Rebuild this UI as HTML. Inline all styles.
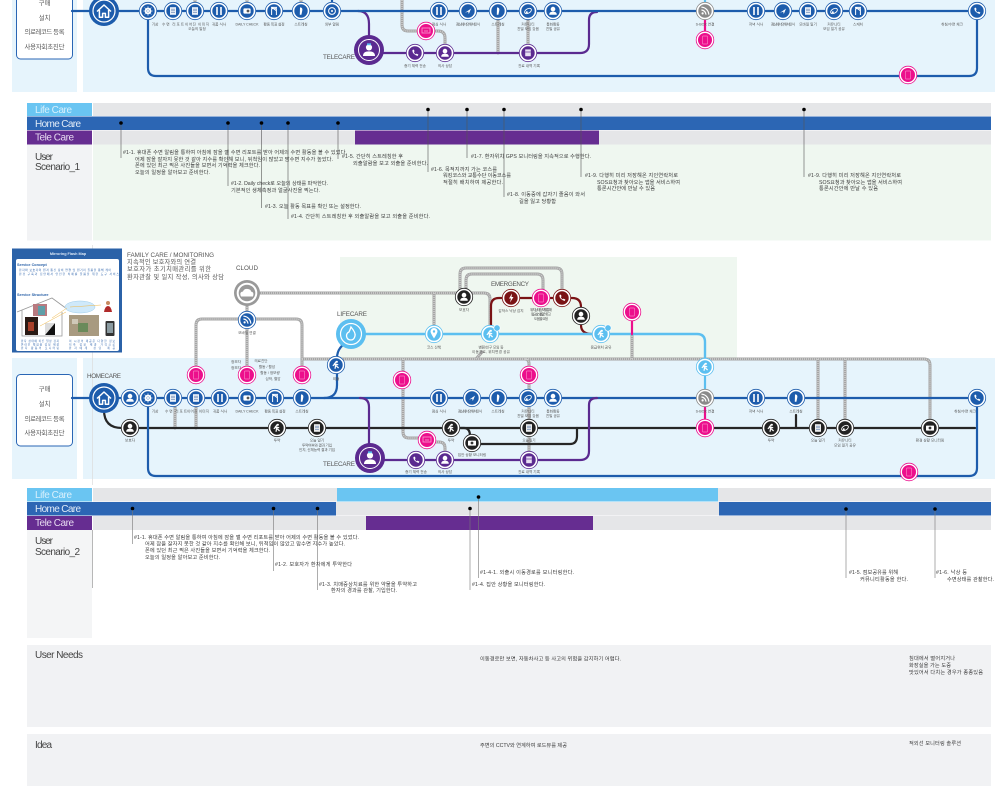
<!DOCTYPE html>
<html lang="ko"><head><meta charset="utf-8"><title>Service Map</title>
<style>
html,body{margin:0;padding:0;background:#fff;width:1005px;height:786px;overflow:hidden}
svg{display:block;filter:blur(.3px)}
text{font-family:"Liberation Sans","Noto Sans CJK KR",sans-serif;fill:#444}
.t{font-size:5.2px;fill:#3a3a3a}
.l{font-size:3.6px;fill:#555;text-anchor:middle}
.h{font-size:10px}
.b{font-size:6.4px;fill:#555;text-anchor:middle}
.m{font-size:6.3px;fill:#555}
.f{fill:none;stroke-linecap:round;stroke-linejoin:round}
</style></head><body>
<svg width="1005" height="786" viewBox="0 0 1005 786" xmlns="http://www.w3.org/2000/svg">
<defs>
<g id="nb"><circle r="8.7" fill="#fff" stroke="#1d5cac" stroke-width=".8"/><circle r="6.7" fill="#1d5cac"/></g>
<g id="np"><circle r="8.7" fill="#fff" stroke="#5b2a90" stroke-width=".8"/><circle r="6.7" fill="#5b2a90"/></g>
<g id="nk"><circle r="8.7" fill="#fff" stroke="#222" stroke-width=".8"/><circle r="6.7" fill="#222"/></g>
<g id="nr"><circle r="8.7" fill="#fff" stroke="#7a1315" stroke-width=".8"/><circle r="6.7" fill="#7a1315"/></g>
<g id="ng"><circle r="8.7" fill="#fff" stroke="#8a8a8a" stroke-width=".8"/><circle r="6.7" fill="#8a8a8a"/></g>
<g id="nl"><circle r="8.7" fill="#fff" stroke="#5cbff0" stroke-width=".8"/><circle r="6.7" fill="#5cbff0"/></g>
<g id="nq"><circle r="8.8" fill="#fff" stroke="#ec0f8c" stroke-width=".8"/><circle r="7" fill="#ec0f8c"/><rect x="-2.6" y="-4" width="5.2" height="8" rx=".8" fill="none" stroke="#f77cc0" stroke-width=".7"/></g>
<g id="nt"><circle r="8.8" fill="#fff" stroke="#ec0f8c" stroke-width=".8"/><circle r="7" fill="#ec0f8c"/><rect x="-4" y="-3" width="8" height="5" fill="none" stroke="#f9a0d2" stroke-width=".8"/><path d="M-2 0H2" stroke="#f9a0d2" stroke-width=".8"/></g>
<g id="gP"><circle cy="-1.9" r="2.3" fill="#fff"/><path d="M-3.8 3.8Q-3.8 .6 0 .6Q3.8 .6 3.8 3.8Z" fill="#fff"/></g>
<g id="gD"><rect x="-3" y="-3.8" width="6" height="7.6" fill="#fff" opacity=".92"/><path d="M-2-1.8H2M-2-.2H2M-2 1.4H2" stroke="#5f7fb0" stroke-width=".6"/></g>
<g id="gF"><path d="M-2-4V4M2-4V4" stroke="#fff" stroke-width="1.6"/></g>
<g id="gT"><circle r="3.4" fill="none" stroke="#fff" stroke-width="1"/><circle r="1" fill="#fff"/></g>
<g id="gC"><rect x="-4" y="-2.4" width="8" height="5" rx=".6" fill="#fff"/><circle r="1.4" fill="#333"/></g>
<g id="gR"><path d="M-1-3.6Q2-3.6 1.2 0L.4 3.8H-1.2Z" fill="#fff"/></g>
<g id="gA"><path d="M-3 1.8L3-2.4L.8 3L.2.6Z" fill="#fff"/></g>
<g id="gH"><path d="M-2.6-3Q-3 1 2.6 3L3.4 1.6L1.6.6L.8 1.4Q-.6.6-1.2-1L-.4-1.8L-1.2-3.4Z" fill="#fff"/></g>
<g id="gS"><path d="M-2.2-.4L.4-3.6M0-1.4L-1 3.8M-.2.4L2.6 3M-.6-1L2.2-.2M-.6-1L-3.2.8" stroke="#fff" stroke-width="1.2" fill="none"/><circle cx=".8" cy="-3.2" r="1.1" fill="#fff"/></g>
<g id="gW"><circle cx="-2.4" cy="2.4" r="1.1" fill="#fff"/><path d="M-3.6-1A4.8 4.8 0 0 1 1 3.6M-3.6-3.8A7.6 7.6 0 0 1 3.8 3.6" stroke="#fff" stroke-width="1.2" fill="none"/></g>
<g id="gK"><path d="M-2.4 4V-2.4H2.4V4M-3-3.6H3M-2.2-3.6L2.2-.4" stroke="#fff" stroke-width="1" fill="none"/></g>
<g id="gL"><ellipse rx="3.7" ry="2.2" fill="none" stroke="#fff" stroke-width=".9" transform="rotate(-30)"/><circle cx="-1.2" cy="1.2" r="1" fill="#fff"/></g>
<g id="gX"><rect x="-3.6" y="-2.6" width="7.2" height="5.2" rx="1" fill="#fff"/><circle cx="1" r="1.4" fill="#555"/></g>
<g id="gB"><path d="M-2.8-3.6H2.8V3.2H-2.8Z" fill="#e8e0f2"/><path d="M-2.8-1H2.8" stroke="#5b2a90" stroke-width=".7"/></g>
<g id="cB"><circle r="3.4" fill="#fff"/><circle r="1.6" fill="#1d5cac"/><path d="M0-4.8V4.8M-4.8 0H4.8M-3.4-3.4L3.4 3.4M3.4-3.4L-3.4 3.4" stroke="#fff" stroke-width=".6"/></g>
<g id="big"><circle r="15" fill="#1d5cac"/><circle r="11" fill="none" stroke="#fff" stroke-width="1.2"/><path d="M-7 0.5L0-6L7 .5M-4.6 -1V6.2H-1.4V2.4H1.4V6.2H4.6V-1" fill="none" stroke="#fff" stroke-width="1.5" stroke-linejoin="round"/></g>
<g id="tel"><circle r="15" fill="#5b2a90"/><circle r="10.5" fill="none" stroke="#fff" stroke-width="1"/><circle cy="-2.6" r="3.1" fill="#fff"/><path d="M-6 6Q-6 1.4 0 1.4Q6 1.4 6 6Z" fill="#fff"/><rect x="-2" y="-6.6" width="4" height="1.8" fill="#5cbff0"/></g>
<g id="rails1">
<path d="M402 0V25Q402 31 408 31H424M430 31H438Q445 31 445 38V53M498 11V53M528 11V53M195 0V6M247 0V6M301 0V6"/>
</g>
<g id="rails2">
<path d="M247 293H484Q490 293 490 299V335M434 293V335M247 293V375M196 375V325Q196 319 202 319H296Q302 319 302 325V375"/>
<path d="M460 297V274Q460 268 466 268H556Q562 268 562 274V297M466 297V280Q466 274 472 274H537Q543 274 543 280V297"/>
<path d="M302 359H924Q930 359 930 365V428M403 359V432Q403 438 409 438H428M818 359V428M845 359V428M525 359Q529 359 529 364V460M632 334V359M476 359L482 352"/>
<path d="M430 442H439Q445 442 445 448V460M175 398V428M196 398V428"/>
</g>
</defs>

<!-- top map -->
<rect x="12" y="0" width="65" height="92" fill="#e6f4fc"/>
<rect x="83" y="0" width="912" height="92" fill="#e6f4fc"/>
<rect x="16.5" y="-12" width="56" height="71" rx="4" fill="#fff" stroke="#2a66b5" stroke-width="1"/>
<text class="b" x="44.5" y="5">구매</text><text class="b" x="44.5" y="20">설치</text><text class="b" x="44.5" y="34" textLength="40">의료레코드 등록</text><text class="b" x="44.5" y="49" textLength="40">사용자회초진단</text>

<use href="#rails1" class="f" stroke="#a5a5a5" stroke-width="3"/>
<use href="#rails1" class="f" stroke="#d0d0d0" stroke-width="1.5" stroke-dasharray="1 1" style="stroke-linecap:butt"/>
<g class="f" stroke-width="2.2">
<path d="M705 0V11" stroke="#5cbff0"/><path d="M705 19V32" stroke="#ec0f8c"/><path d="M332 0V8" stroke="#1d5cac"/>
<path d="M358 11Q369 11 369 24V50" stroke="#5b2a90"/>
<path d="M369 53H580Q589 53 589 44V20Q589 12 597 12" stroke="#5b2a90"/>
<path d="M72 11H977" stroke="#1d5cac"/>
<path d="M148 11V68Q148 76 156 76H969Q977 76 977 68V11" stroke="#1d5cac"/>
</g>
<use href="#big" x="104" y="11"/>
<g>
<use href="#nb" x="148" y="11"/><use href="#cB" x="148" y="11"/>
<use href="#nb" x="173" y="11"/><use href="#gD" x="173" y="11"/>
<use href="#nb" x="195" y="11"/><use href="#gD" x="195" y="11"/>
<use href="#nb" x="219" y="11"/><use href="#gF" x="219" y="11"/>
<use href="#nb" x="247" y="11"/><use href="#gX" x="247" y="11"/>
<use href="#nb" x="274" y="11"/><use href="#gK" x="274" y="11"/>
<use href="#nb" x="301" y="11"/><use href="#gR" x="301" y="11"/>
<use href="#nb" x="332" y="11"/><use href="#gT" x="332" y="11"/>
<use href="#nb" x="439" y="11"/><use href="#gF" x="439" y="11"/>
<use href="#nb" x="468" y="11"/><use href="#gA" x="468" y="11"/>
<use href="#nb" x="498" y="11"/><use href="#gR" x="498" y="11"/>
<use href="#nb" x="528" y="11"/><use href="#gL" x="528" y="11"/>
<use href="#nb" x="553" y="11"/><use href="#gP" x="553" y="11"/>
<use href="#ng" x="705" y="11"/><use href="#gW" x="705" y="11"/>
<use href="#nb" x="756" y="11"/><use href="#gF" x="756" y="11"/>
<use href="#nb" x="783" y="11"/><use href="#gA" x="783" y="11"/>
<use href="#nb" x="808" y="11"/><use href="#gD" x="808" y="11"/>
<use href="#nb" x="834" y="11"/><use href="#gL" x="834" y="11"/>
<use href="#nb" x="858" y="11"/><use href="#gK" x="858" y="11"/>
<use href="#nb" x="977" y="11"/><use href="#gH" x="977" y="11"/>
<use href="#nq" x="705" y="40"/><use href="#nq" x="908" y="75"/><use href="#nt" x="426" y="31"/>
<use href="#tel" x="369" y="50"/>
<use href="#np" x="415" y="53"/><use href="#gH" x="415" y="53"/>
<use href="#np" x="445" y="53"/><use href="#gP" x="445" y="53"/>
<use href="#np" x="528" y="53"/><use href="#gB" x="528" y="53"/>
</g>
<text class="m" x="323" y="59" textLength="32">TELECARE</text>
<g>
<text class="l" x="155" y="25.500">기상</text><text class="l" x="173" y="25.500" textLength="22">수면 리포트</text><text class="l" x="197" y="25.500" textLength="24">이어진 이미지</text><text class="l" x="197" y="30">오늘의 일정</text><text class="l" x="219" y="25.500">귀품 식사</text><text class="l" x="247" y="25.500" textLength="23">DAILY CHECK</text><text class="l" x="274" y="25.500" textLength="21">활동 목표 설정</text><text class="l" x="301" y="25.500">스트레칭</text><text class="l" x="332" y="25.500">외부 알림</text>
<text class="l" x="439" y="25.500">점심 식사</text><text class="l" x="468" y="25.500" textLength="24">점심에서의 위치인식</text><text class="l" x="498" y="25.500">스트레칭</text><text class="l" x="528" y="25.500">커뮤니티</text><text class="l" x="528" y="30">친밀 모임 갖음</text><text class="l" x="553" y="25.500">통화활동</text><text class="l" x="553" y="30">친밀 공유</text>
<text class="l" x="705" y="25.500">S-BOX 연결</text><text class="l" x="756" y="25.500">저녁 식사</text><text class="l" x="783" y="25.500" textLength="24">점심에서의 위치인식</text><text class="l" x="808" y="25.500">모바일 일기</text><text class="l" x="834" y="25.500">커뮤니티</text><text class="l" x="834" y="30">모임 일기 공유</text><text class="l" x="858" y="25.500">스케치</text><text class="l" x="952" y="25.500">취침/수면 체크</text>
<text class="l" x="415" y="67">증기 체력 전송</text><text class="l" x="445" y="67">의사 상담</text><text class="l" x="529" y="67">진료 내역 기록</text>
</g>

<!-- scenario 1 -->
<rect x="27" y="103" width="65" height="13" fill="#6ac5f2"/><rect x="93" y="103" width="898" height="13" fill="#e5e6e8"/>
<rect x="27" y="116.5" width="964" height="13.5" fill="#2c66b4"/>
<rect x="27" y="130.5" width="65" height="14" fill="#662d91"/><rect x="93" y="130.5" width="898" height="14" fill="#e5e6e8"/><rect x="355" y="130.5" width="244" height="14" fill="#662d91"/>
<rect x="27" y="144.5" width="65" height="96" fill="#f2f3f5"/><rect x="93" y="144.5" width="898" height="96" fill="#eff7f0"/>
<text x="35" y="113" class="h" textLength="37" style="fill:#d8f0fc">Life Care</text>
<text x="35" y="127" class="h" textLength="46" style="fill:#e2ecf7">Home Care</text>
<text x="35" y="140.500" class="h" textLength="39" style="fill:#e6daf0">Tele Care</text>
<text x="35" y="160" class="h" textLength="18">User</text><text x="35" y="170" class="h" textLength="45">Scenario_1</text>
<g stroke="#555" stroke-width=".6">
<path d="M121 123V158M228 123V186M261.500 123V208M288 123V219M338 123V159M428 109.500V172M467 109.500V158M504 109.500V197M581 109.500V177M804 109.500V177"/>
</g>
<g fill="#000">
<circle cx="121" cy="123" r="1.800"/><circle cx="228" cy="123" r="1.800"/><circle cx="261.500" cy="123" r="1.800"/><circle cx="288" cy="123" r="1.800"/><circle cx="338" cy="123" r="1.800"/>
<circle cx="428" cy="109.500" r="1.800"/><circle cx="467" cy="109.500" r="1.800"/><circle cx="504" cy="109.500" r="1.800"/><circle cx="581" cy="109.500" r="1.800"/><circle cx="804" cy="109.500" r="1.800"/>
</g>
<g>
<text class="t" x="123" y="154" textLength="224">#1-1. 휴대폰 수면 알림을 통하여 아침에 잠을 깰 수면 리포트를 받아 어제의 수면 활동을 볼 수 있었다.</text>
<text class="t" x="135" y="161" textLength="198">어제 잠을 잘자지 못한 것 같아 지수를 확인해 보니, 뒤척임이 많았고 맘수면 지수가 높았다.</text>
<text class="t" x="135" y="167" textLength="125">폰에 있던 최근 찍은 사진들을 보면서 기억력을 체크한다.</text>
<text class="t" x="135" y="174" textLength="75">오늘의 일정을 알아보고 준비한다.</text>
<text class="t" x="231" y="185" textLength="97">#1-2. Daily check로 오늘의 상태를 파악한다.</text>
<text class="t" x="231" y="192" textLength="89">기본적인 생체측정과 얼굴사진을 찍는다.</text>
<text class="t" x="265" y="208" textLength="96">#1-3. 오늘 활동 목표를 확인 또는 설정한다.</text>
<text class="t" x="291" y="218" textLength="139">#1-4. 간단히 스트레칭한 후 외출알람을 보고 외출을 준비한다.</text>
<text class="t" x="342" y="158" textLength="61">#1-5. 간단히 스트레칭한 후</text>
<text class="t" x="353" y="165" textLength="75">외출알람을 보고 외출을 준비한다.</text>
<text class="t" x="431" y="171" textLength="66">#1-6. 목적지까지 가는 코스를</text>
<text class="t" x="443" y="177" textLength="68">워킹코스와 교통수단 이동코스를</text>
<text class="t" x="443" y="184" textLength="60">적절히 배치하여 제공한다.</text>
<text class="t" x="471" y="158" textLength="120">#1-7. 환자위치 GPS 모니터링을 지속적으로 수행한다.</text>
<text class="t" x="507" y="196" textLength="78">#1-8. 이동중에 갑자기 졸음이 와서</text>
<text class="t" x="519" y="203" textLength="37">길을 잃고 당황함</text>
<text class="t" x="585" y="177" textLength="93">#1-9. 다행히 미리 저장해온 지인연락처로</text>
<text class="t" x="597" y="184" textLength="83">SOS요청과 찾아오는 앱을 서비스하여</text>
<text class="t" x="597" y="190" textLength="58">통론시간안에 만날 수 있음</text>
<text class="t" x="808" y="177" textLength="93">#1-9. 다행히 미리 저장해온 지인연락처로</text>
<text class="t" x="819" y="184" textLength="83">SOS요청과 찾아오는 앱을 서비스하여</text>
<text class="t" x="819" y="190" textLength="59">통론시간안에 만날 수 있음</text>
</g>

<!-- middle backgrounds -->
<rect x="340" y="257" width="397" height="101" fill="#eff7f0"/>
<rect x="12" y="358" width="65" height="121" fill="#e6f4fc"/>
<rect x="83" y="358" width="912" height="121" fill="#e6f4fc"/>
<path d="M92.500 245V485" stroke="#dcdcdc" stroke-width=".7"/>
<rect x="16.500" y="374.500" width="56" height="71.500" rx="4" fill="#fff" stroke="#2a66b5" stroke-width="1"/>
<text class="b" x="44.500" y="391">구매</text><text class="b" x="44.500" y="406">설치</text><text class="b" x="44.500" y="421" textLength="40">의료레코드 등록</text><text class="b" x="44.500" y="435" textLength="40">사용자회초진단</text>

<!-- flash map card -->
<rect x="12" y="248.500" width="110" height="104" fill="#2b62a8"/>
<rect x="16" y="259" width="103" height="92" rx="2" fill="#fff"/>
<text x="68" y="255" font-size="3.800" font-weight="700" text-anchor="middle" style="fill:#dce8f6">Mirroring Flash Map</text>
<text x="17" y="266" font-size="3.800" font-weight="700" style="fill:#2b62a8">Service Concept</text>
<text x="19" y="271" font-size="2.800" textLength="92" style="fill:#3a6cb0">환자와 보호자의 원격 통신 장비 연결 및 원거리 돌봄을 통해 케어</text>
<text x="19" y="275" font-size="2.800" textLength="100" style="fill:#3a6cb0">환경 구축과 집안에서 안전한 치매를 돌봄을 위한 도구 서비스</text>
<text x="17" y="296" font-size="3.800" font-weight="700" style="fill:#2b62a8">Service Structure</text>
<path d="M17 312L52 298L67 309M22 310V336H62V312" fill="none" stroke="#999" stroke-width=".8"/>
<rect x="33" y="304" width="14" height="12" fill="#b87a80"/><rect x="38" y="306" width="7" height="9" fill="#5f9ea8"/>
<rect x="25" y="317" width="13" height="18" fill="#2a1a14"/><rect x="28" y="322" width="6" height="9" fill="#a8402a"/>
<path d="M45 335L55 323V335Z" fill="#111"/><path d="M45 335V323H55Z" fill="#ddd"/>
<ellipse cx="80" cy="307" rx="15" ry="6" fill="#cfe9fa" stroke="#9fcdea" stroke-width=".5"/>
<rect x="69" y="315" width="30" height="21" fill="#a89a80"/><rect x="78" y="323" width="10" height="9" fill="#6a8a5a"/><rect x="72" y="319" width="6" height="5" fill="#cfc8b8"/>
<rect x="105.500" y="321" width="9" height="15" rx="1" fill="#333"/><rect x="107" y="323" width="6" height="10" fill="#8a9aa0"/>
<circle cx="108" cy="303" r="2" fill="#c88a60"/><path d="M104 312Q105 306 108 306Q111 306 112 312Z" fill="#b02a2a"/>
<path d="M52 318L67 308M40 326L66 312M70 307L101 305" stroke="#f1b94a" stroke-width=".5"/>
<text x="21" y="342" font-size="2.700" textLength="38" style="fill:#3a6cb0">환자 상태에 따른 일상 감지</text>
<text x="21" y="345.500" font-size="2.700" textLength="38" style="fill:#3a6cb0">온라인 체험용 정보 제공</text>
<text x="21" y="349" font-size="2.700" textLength="38" style="fill:#3a6cb0">환자 활동의 모니터링</text>
<text x="69" y="342" font-size="2.700" textLength="46" style="fill:#3a6cb0">이 시장의 제공은 다양한 정보</text>
<text x="69" y="345.500" font-size="2.700" textLength="46" style="fill:#3a6cb0">지속 정보 제공 가격으로</text>
<text x="69" y="349" font-size="2.700" textLength="46" style="fill:#3a6cb0">환자에게 상담 제공</text>

<text class="m" x="127" y="257" textLength="87">FAMILY CARE  / MONITORING</text>
<text class="m" x="127" y="264" textLength="69">지속적인 보호자와의 연결</text>
<text class="m" x="127" y="271" textLength="84">보호자가 초기치매관리를 위한</text>
<text class="m" x="127" y="279" textLength="97">환자관찰 및 일지 작성, 의사와 상담</text>
<text class="m" x="236" y="270" textLength="22">CLOUD</text>
<text class="m" x="87" y="378" textLength="34">HOMECARE</text>
<text class="m" x="337" y="316" textLength="30">LIFECARE</text>
<text class="m" x="491" y="286" textLength="38">EMERGENCY</text>
<text class="m" x="323" y="466" textLength="32">TELECARE</text>

<use href="#rails2" class="f" stroke="#a5a5a5" stroke-width="3"/>
<use href="#rails2" class="f" stroke="#d0d0d0" stroke-width="1.500" stroke-dasharray="1 1" style="stroke-linecap:butt"/>

<g class="f" stroke-width="2.200">
<path d="M491 335V306Q491 298 499 298H572Q581 298 581 307V325Q581 334 592 334" stroke="#7a1315"/>
<path d="M351 334H697Q705 334 705 342V367" stroke="#5cbff0" stroke-width="2.400"/>
<path d="M705 375V390" stroke="#5cbff0"/>
<path d="M632 320V334" stroke="#ec0f8c"/>
<path d="M705 406V420" stroke="#ec0f8c"/>
<path d="M104 410Q104 428 122 428H975" stroke="#262626"/>
<path d="M796 415V428" stroke="#262626"/>
<path d="M458 428H464Q470 428 470 436V444H570Q577 444 577 436V428" stroke="#262626"/>
<path d="M72 398H977" stroke="#1d5cac"/>
<path d="M148 398V468Q148 476 156 476H969Q977 476 977 468V398" stroke="#1d5cac"/>
<path d="M351 340Q337 346 337 358V385Q337 398 324 398" stroke="#1d5cac"/>
<path d="M360 398Q369 398 369 407V458" stroke="#5b2a90"/>
<path d="M370 460H580Q589 460 589 451V405Q589 398 597 398" stroke="#5b2a90"/>
</g>

<circle cx="247" cy="293" r="13" fill="#999"/><circle cx="247" cy="293" r="10.300" fill="#fff"/><circle cx="247" cy="293" r="8.300" fill="#999"/>
<path d="M241 296.500Q239 292 243 291.500Q244 288.500 248 289Q251 289.500 251 291.500Q254.500 292 253 296.500Z" fill="#fff"/>
<use href="#nb" x="247" y="320"/><use href="#gW" x="247" y="320"/>
<text class="l" x="247" y="334">모바일 연결</text>
<text class="l" x="236" y="363">정보자</text><text class="l" x="236" y="369">정보자</text>
<text class="l" x="261" y="362">의료진단</text><text class="l" x="267" y="368">활동 / 활성</text><text class="l" x="270" y="374">활동 / 정보량</text><text class="l" x="273" y="380">심박, 혈압</text>

<circle cx="351" cy="334" r="15" fill="#5cbff0"/><circle cx="351" cy="334" r="10.500" fill="none" stroke="#fff" stroke-width="1.200"/>
<path d="M351 327Q356 333 355 336Q354 340 351 340Q347 340 346.500 336Q346.500 333 349 332Q350 330 351 327Z" fill="none" stroke="#fff" stroke-width="1.300"/>

<use href="#nl" x="434" y="334"/><path d="M434 338.500Q430.500 333 430.500 331.500A3.500 3.500 0 0 1 437.500 331.500Q437.500 333 434 338.500Z" fill="#fff"/><circle cx="434" cy="331.500" r="1.200" fill="#5cbff0"/>
<use href="#nl" x="490" y="334"/><use href="#gS" x="490" y="334"/><circle cx="497" cy="328" r="3.200" fill="#5cbff0" stroke="#fff" stroke-width=".7"/>
<use href="#nl" x="601" y="334"/><use href="#gS" x="601" y="334"/><circle cx="608" cy="328" r="3.200" fill="#5cbff0" stroke="#fff" stroke-width=".7"/>
<use href="#nq" x="632" y="312"/>
<use href="#nk" x="464" y="297"/><use href="#gP" x="464" y="297"/>
<use href="#nr" x="511" y="298"/><path d="M512 293.500L509 298.500H511L510 302.500L513.500 297H511.500Z" fill="#fff"/>
<use href="#nq" x="541" y="298"/>
<use href="#nr" x="562" y="298"/><use href="#gH" x="562" y="298"/>
<use href="#nk" x="581" y="316"/><use href="#gP" x="581" y="316"/>
<text class="l" x="464" y="311">보호자</text>
<text class="l" x="511" y="312">갑작스 낙상 감지</text>
<text class="l" x="541" y="311" textLength="22">위치, 상태, 정보를 통해</text><text class="l" x="541" y="315.500" textLength="20">필요상태를 알려주고</text><text class="l" x="541" y="320" textLength="14">도움을 요청</text>
<text class="l" x="434" y="348.500">코스 산책</text>
<text class="l" x="491" y="348.500" textLength="25">병원/친구 모임 등</text><text class="l" x="491" y="353" textLength="38">이동경로, 위치변경 공유</text>
<text class="l" x="601" y="348.500">응급위치 공유</text>

<use href="#nb" x="336" y="365"/><use href="#gS" x="336" y="365"/><text class="l" x="336" y="380">외출</text>
<use href="#nq" x="196" y="375"/><use href="#nq" x="247" y="375"/><use href="#nq" x="302" y="375"/><use href="#nq" x="402" y="380"/><use href="#nq" x="529" y="375"/>

<use href="#big" x="104" y="398"/>
<use href="#nb" x="130" y="398"/><use href="#gP" x="130" y="398"/>
<use href="#nb" x="148" y="398"/><use href="#cB" x="148" y="398"/>
<use href="#nb" x="173" y="398"/><use href="#gD" x="173" y="398"/>
<use href="#nb" x="196" y="398"/><use href="#gD" x="196" y="398"/>
<use href="#nb" x="220" y="398"/><use href="#gF" x="220" y="398"/>
<use href="#nb" x="247" y="398"/><use href="#gX" x="247" y="398"/>
<use href="#nb" x="275" y="398"/><use href="#gK" x="275" y="398"/>
<use href="#nb" x="302" y="398"/><use href="#gR" x="302" y="398"/>
<use href="#nb" x="439" y="398"/><use href="#gF" x="439" y="398"/>
<use href="#nb" x="472" y="398"/><use href="#gA" x="472" y="398"/>
<use href="#nb" x="498" y="398"/><use href="#gR" x="498" y="398"/>
<use href="#nb" x="528" y="398"/><use href="#gL" x="528" y="398"/>
<use href="#nb" x="553" y="398"/><use href="#gP" x="553" y="398"/>
<use href="#ng" x="705" y="398"/><use href="#gW" x="705" y="398"/>
<use href="#nl" x="705" y="367"/><use href="#gS" x="705" y="367"/>
<use href="#nb" x="756" y="398"/><use href="#gF" x="756" y="398"/>
<use href="#nb" x="796" y="398"/><use href="#gR" x="796" y="398"/>
<use href="#nb" x="977" y="398"/><use href="#gH" x="977" y="398"/>

<use href="#nk" x="130" y="428"/><use href="#gP" x="130" y="428"/>
<use href="#nk" x="277" y="428"/><use href="#gS" x="277" y="428"/>
<use href="#nk" x="317" y="428"/><use href="#gD" x="317" y="428"/>
<use href="#nk" x="451" y="428"/><use href="#gS" x="451" y="428"/>
<use href="#nk" x="529" y="428"/><use href="#gD" x="529" y="428"/>
<use href="#nq" x="705" y="428"/>
<use href="#nk" x="771" y="428"/><use href="#gS" x="771" y="428"/>
<use href="#nk" x="818" y="428"/><use href="#gD" x="818" y="428"/>
<use href="#nk" x="845" y="428"/><use href="#gL" x="845" y="428"/>
<use href="#nk" x="930" y="428"/><use href="#gC" x="930" y="428"/>
<use href="#nk" x="472" y="443"/><use href="#gC" x="472" y="443"/>
<use href="#nt" x="427" y="440"/>
<use href="#tel" x="370" y="458"/>
<use href="#np" x="416" y="460"/><use href="#gH" x="416" y="460"/>
<use href="#np" x="445" y="460"/><use href="#gP" x="445" y="460"/>
<use href="#np" x="529" y="460"/><use href="#gB" x="529" y="460"/>
<use href="#nq" x="909" y="472"/>

<g>
<text class="l" x="155" y="412.500">기상</text><text class="l" x="176" y="412.500" textLength="22">수면 리포트</text><text class="l" x="198" y="412.500" textLength="22">이어진 이미지</text><text class="l" x="220" y="412.500">귀품 식사</text><text class="l" x="247" y="412.500" textLength="23">DAILY CHECK</text><text class="l" x="275" y="412.500" textLength="21">활동 목표 설정</text><text class="l" x="302" y="412.500">스트레칭</text>
<text class="l" x="439" y="412.500">점심 식사</text><text class="l" x="470" y="412.500" textLength="24">점심에서의 위치인식</text><text class="l" x="498" y="412.500">스트레칭</text><text class="l" x="528" y="412.500">커뮤니티</text><text class="l" x="528" y="417">친밀 모임 갖음</text><text class="l" x="553" y="412.500">통화활동</text><text class="l" x="553" y="417">친밀 공유</text>
<text class="l" x="705" y="412.500">S-BOX 연결</text><text class="l" x="756" y="412.500">저녁 식사</text><text class="l" x="796" y="412.500">스트레칭</text><text class="l" x="965" y="412.500">취침/수면 체크</text>
<text class="l" x="130" y="441.500">보호자</text><text class="l" x="277" y="441.500">투약</text>
<text class="l" x="317" y="441.500">오늘 일기</text><text class="l" x="317" y="446.500" textLength="30">투약여부와 결과 기입</text><text class="l" x="317" y="451" textLength="36">인지, 신체능력 결과 기입</text>
<text class="l" x="451" y="441.500">투약</text><text class="l" x="529" y="441.500">오늘일기</text>
<text class="l" x="771" y="441.500">투약</text><text class="l" x="818" y="441.500">오늘 일기</text><text class="l" x="845" y="441.500">커뮤니티</text><text class="l" x="845" y="446.500">모임 일기 공유</text><text class="l" x="930" y="441.500">환경 상황 모니터링</text>
<text class="l" x="472" y="456">집안 상황 모니터링</text>
<text class="l" x="416" y="473">증기 체력 전송</text><text class="l" x="445" y="473">의사 상담</text><text class="l" x="529" y="473">진료 내역 기록</text>
</g>

<!-- scenario 2 -->
<rect x="27" y="488" width="65" height="13.500" fill="#6ac5f2"/><rect x="93" y="488" width="898" height="13.500" fill="#e5e6e8"/><rect x="337" y="488" width="381" height="13.500" fill="#6ac5f2"/>
<rect x="27" y="502" width="65" height="13.500" fill="#2c66b4"/><rect x="92" y="502" width="899" height="13.500" fill="#e5e6e8"/><rect x="92" y="502" width="244" height="13.500" fill="#2c66b4"/><rect x="719" y="502" width="272" height="13.500" fill="#2c66b4"/>
<rect x="27" y="516" width="65" height="14" fill="#662d91"/><rect x="93" y="516" width="898" height="14" fill="#e5e6e8"/><rect x="366" y="516" width="227" height="14" fill="#662d91"/>
<rect x="27" y="530" width="65" height="108" fill="#f4f5f6"/>
<path d="M92.500 530V588" stroke="#999" stroke-width=".7"/>
<text x="35" y="498" class="h" textLength="37" style="fill:#d8f0fc">Life Care</text>
<text x="35" y="512" class="h" textLength="46" style="fill:#e2ecf7">Home Care</text>
<text x="35" y="526" class="h" textLength="39" style="fill:#e6daf0">Tele Care</text>
<text x="35" y="544" class="h" textLength="18">User</text><text x="35" y="555" class="h" textLength="45">Scenario_2</text>
<g stroke="#777" stroke-width=".6">
<path d="M132.500 508.500V544M273.500 508.500V571M317.500 508.500V590M470 508.500V590M478.500 497V578M846 508.500V578M935 508.500V578"/>
</g>
<g fill="#000">
<circle cx="132.500" cy="508.500" r="1.800"/><circle cx="273.500" cy="508.500" r="1.800"/><circle cx="317.500" cy="508.500" r="1.800"/><circle cx="470" cy="508.500" r="1.800"/><circle cx="478.500" cy="497" r="1.800"/><circle cx="846" cy="509" r="1.800"/><circle cx="935" cy="509" r="1.800"/>
</g>
<g>
<text class="t" x="134" y="539" textLength="225">#1-1. 휴대폰 수면 알림을 통하여 아침에 잠을 깰 수면 리포트를 받아 어제의 수면 활동을 볼 수 있었다.</text>
<text class="t" x="145" y="545.500" textLength="200">어제 잠을 잘자지 못한 것 같아 지수를 확인해 보니, 뒤척임이 많았고 맘수면 지수가 높았다.</text>
<text class="t" x="145" y="552" textLength="125">폰에 있던 최근 찍은 사진들을 보면서 기억력을 체크한다.</text>
<text class="t" x="145" y="559" textLength="75">오늘의 일정을 알아보고 준비한다.</text>
<text class="t" x="275" y="566" textLength="77">#1-2. 보호자가 환자에게 투약한다</text>
<text class="t" x="319" y="586" textLength="98">#1-3. 치매증상치료를 위한 약물을 투약하고</text>
<text class="t" x="331" y="592" textLength="66">환자의 경과를 관찰, 기입한다.</text>
<text class="t" x="480" y="574" textLength="94">#1-4-1. 외출시 이동경로를 모니터링한다.</text>
<text class="t" x="472" y="586" textLength="73">#1-4. 집안 상황을 모니터링한다.</text>
<text class="t" x="849" y="574" textLength="49">#1-5. 점보공유를 위해</text>
<text class="t" x="860" y="581" textLength="48">커뮤니티활동을 한다.</text>
<text class="t" x="936" y="574" textLength="31">#1-6. 낙상 등</text>
<text class="t" x="947" y="581" textLength="47">수면상태를 관찰한다.</text>
</g>

<!-- needs / idea -->
<rect x="27" y="645" width="964" height="82" fill="#f1f2f4"/>
<rect x="27" y="734" width="964" height="52" fill="#f1f2f4"/>
<text x="35" y="658" class="h" textLength="48">User Needs</text>
<text x="35" y="748" class="h" textLength="17">Idea</text>
<text class="t" x="480" y="660.500" textLength="141">이동경로만 보면, 자동차사고 등 사고의 위험을 감지하기 어렵다.</text>
<text class="t" x="909" y="660" textLength="46">침대에서 떨어지거나</text>
<text class="t" x="909" y="667" textLength="42">화장실을 가는 도중</text>
<text class="t" x="909" y="674" textLength="74">맛있어서 다치는 경우가 종종있음</text>
<text class="t" x="480" y="747" textLength="87">주변의 CCTV와 연계하여 로드뷰를 제공</text>
<text class="t" x="909" y="745" textLength="52">적외선 모니터링 솔루션</text>
</svg>
</body></html>
